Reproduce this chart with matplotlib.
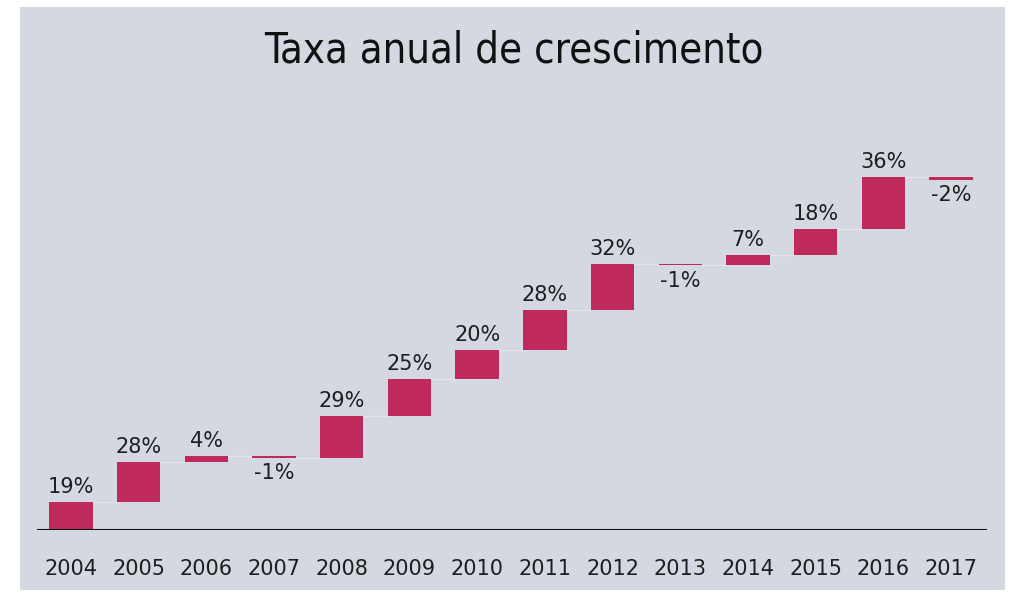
import numpy as np
import matplotlib.pyplot as plt
import matplotlib.patches as mpatches

# ── Data ──────────────────────────────────────────────────────────────────────
years = ["2004", "2005", "2006", "2007", "2008", "2009", "2010",
         "2011", "2012", "2013", "2014", "2015", "2016", "2017"]
rates = [19, 28, 4, -1, 29, 25, 20, 28, 32, -1, 7, 18, 36, -2]

BG = "#d4d8e1"
BAR = "#c0295c"

ends = np.cumsum(rates)
starts = ends - np.array(rates)
x = np.arange(len(years))

fig = plt.figure(figsize=(10.12, 5.93), dpi=100)
fig.patch.set_facecolor("white")
fig.patches.append(mpatches.Rectangle((20/1012, 3/593), 985/1012, 583/593,
                                      transform=fig.transFigure,
                                      facecolor=BG, edgecolor="none", zorder=-5))

ax = fig.add_axes([37/1012, 63/593, 950/1012, 430/593])
ax.set_facecolor("none")

bottoms = np.minimum(starts, ends)
heights = np.abs(np.array(rates))
ax.bar(x, heights, bottom=bottoms, width=0.64, color=BAR, zorder=3)

# faint connectors between bars
for i in range(len(x) - 1):
    ax.plot([x[i] + 0.32, x[i + 1] - 0.32], [ends[i], ends[i]],
            color="#e4e4e4", lw=1, zorder=2)

for i, r in enumerate(rates):
    if r >= 0:
        ax.text(x[i], ends[i] + 3.5, f"{r}%", ha="center", va="bottom",
                fontsize=15, color="#1e1e1e")
    else:
        ax.text(x[i], starts[i] + r - 4, f"{r}%", ha="center", va="top",
                fontsize=15, color="#1e1e1e")

ax.set_xlim(-0.5, 13.53)
ax.set_ylim(0, 297)
ax.axhline(0, color="#111111", lw=1.5, zorder=4)
for s in ax.spines.values():
    s.set_visible(False)
ax.set_yticks([])
ax.set_xticks(x)
ax.set_xticklabels(years, fontsize=15, color="#1e1e1e")
ax.tick_params(axis="x", length=0, pad=21)

fig.text(0.508, 0.915, "Taxa anual de crescimento", ha="center", va="center",
         fontsize=30, family="DejaVu Sans", stretch="condensed",
         color="#111111")

fig.savefig("out.png", dpi=100, facecolor=fig.get_facecolor())
